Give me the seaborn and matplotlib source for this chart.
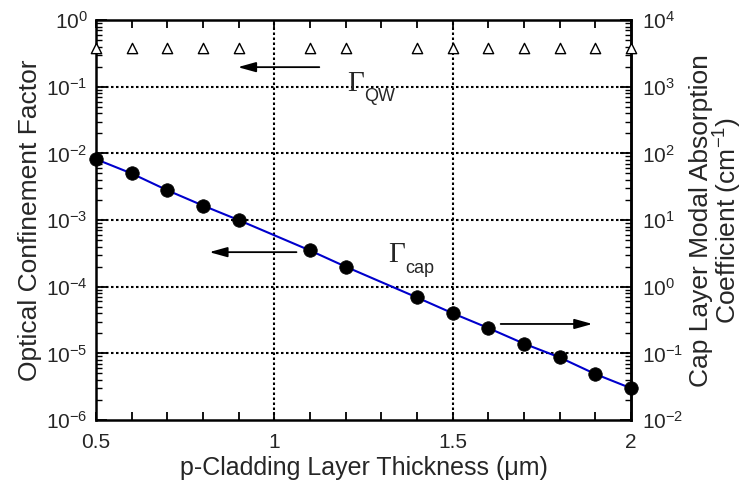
import numpy as np
import pandas as pd
import matplotlib
matplotlib.use("Agg")
import matplotlib.pyplot as plt
import matplotlib.ticker as mticker
import seaborn as sns

thickness = [0.5, 0.6, 0.7, 0.8, 0.9, 1.1, 1.2, 1.4, 1.5, 1.6, 1.7, 1.8, 1.9, 2.0]
gamma_qw = [0.38, 0.38, 0.38, 0.38, 0.38, 0.38, 0.38, 0.38, 0.38, 0.38, 0.38, 0.38, 0.38, 0.38]
gamma_cap = [8.2e-3, 5.0e-3, 2.8e-3, 1.65e-3, 1.0e-3, 3.5e-4, 2.0e-4,
             6.9e-5, 4.0e-5, 2.4e-5, 1.4e-5, 8.7e-6, 4.9e-6, 3.0e-6]
x_ticks = [0.5, 1, 1.5, 2]
x_ticklabels = ["0.5", "1", "1.5", "2"]
left_decades = [-6, -5, -4, -3, -2, -1, 0]
right_decades = [-2, -1, 0, 1, 2, 3, 4]
right_scale = 1e4  # absorption coefficient (cm^-1) per unit confinement factor

df = pd.DataFrame({"t": thickness, "qw": gamma_qw, "cap": gamma_cap})

sns.set_theme(style="ticks")
plt.rcParams["font.family"] = ["Liberation Sans", "DejaVu Sans"]
plt.rcParams["mathtext.default"] = "regular"
plt.rcParams["axes.axisbelow"] = False


def decade_minors(decs):
    return [m * 10.0 ** d for d in decs[:-1] for m in range(2, 10)]


fig = plt.figure(figsize=(7.44, 4.91), dpi=100)
ax = fig.add_axes([0.129, 0.1446, 0.719, 0.8144])

sns.lineplot(data=df, x="t", y="cap", ax=ax, color="#0000cc", lw=1.5, zorder=3)
sns.scatterplot(data=df, x="t", y="cap", ax=ax, color="black", s=95, edgecolor="black",
                linewidth=0.5, zorder=4, clip_on=False)
sns.scatterplot(data=df, x="t", y="qw", ax=ax, marker="^", s=55, facecolor="white",
                edgecolor="black", linewidth=1.0, zorder=4, clip_on=False)

ax.set_yscale("log")
ax.set_xlim(0.5, 2.0)
ax.set_ylim(1e-6, 1e0)

# grid
for e in left_decades[1:-1]:
    ax.axhline(10.0 ** e, color="black", ls=(0, (1.2, 1.2)), lw=1.5, zorder=1)
for xv in [1.0, 1.5]:
    ax.axvline(xv, color="black", ls=(0, (1.2, 1.2)), lw=1.5, zorder=1)

ax.set_xticks(x_ticks)
ax.set_xticklabels(x_ticklabels)
ax.xaxis.set_minor_locator(mticker.FixedLocator([0.6, 0.7, 0.8, 0.9, 1.1, 1.2, 1.3, 1.4,
                                                 1.6, 1.7, 1.8, 1.9]))
ax.yaxis.set_major_locator(mticker.FixedLocator([10.0 ** d for d in left_decades]))
ax.yaxis.set_minor_locator(mticker.FixedLocator(decade_minors(left_decades)))
ax.yaxis.set_minor_formatter(mticker.NullFormatter())
ax.yaxis.set_major_formatter(mticker.FuncFormatter(lambda v, p: "$10^{%d}$" % round(np.log10(v))))

ax.tick_params(axis="x", which="both", direction="in", top=True, bottom=True, length=6, width=1.3,
               labelsize=15, pad=9, color="black")
ax.tick_params(axis="y", which="major", direction="in", left=True, right=False, length=8, width=1.3,
               labelsize=15, pad=6, color="black")
ax.tick_params(axis="y", which="minor", direction="in", left=True, right=False, length=4, width=1.0,
               color="black")

for sp in ax.spines.values():
    sp.set_linewidth(1.8)
    sp.set_color("black")

ax.set_xlabel("p-Cladding Layer Thickness (\u03bcm)", fontsize=18, labelpad=3)
ax.set_ylabel("Optical Confinement Factor", fontsize=19, labelpad=3)

ax2 = ax.secondary_yaxis("right", functions=(lambda y: y * right_scale, lambda y: y / right_scale))
ax2.yaxis.set_major_locator(mticker.FixedLocator([10.0 ** d for d in right_decades]))
ax2.yaxis.set_minor_locator(mticker.FixedLocator(decade_minors(right_decades)))
ax2.yaxis.set_minor_formatter(mticker.NullFormatter())
ax2.yaxis.set_major_formatter(mticker.FuncFormatter(lambda v, p: "$10^{%d}$" % round(np.log10(v))))
ax2.tick_params(axis="y", which="major", direction="in", length=8, width=1.3, labelsize=15, pad=8,
                color="black")
ax2.tick_params(axis="y", which="minor", direction="in", length=4, width=1.0, color="black")
for sp in ax2.spines.values():
    sp.set_linewidth(1.8)
    sp.set_color("black")
ax2.set_ylabel("Cap Layer Modal Absorption\nCoefficient (cm$^{-1}$)", fontsize=19, labelpad=4,
               linespacing=0.95)

# arrows and labels
arr = dict(arrowstyle="-|>,head_length=0.9,head_width=0.25", color="black", lw=1.3)
ax.annotate("", xy=(0.89, 0.197), xytext=(1.134, 0.197), arrowprops=arr)
ax.annotate("", xy=(0.81, 3.3e-4), xytext=(1.07, 3.3e-4), arrowprops=arr)
ax.annotate("", xy=(1.90, 2.76e-5), xytext=(1.627, 2.76e-5), arrowprops=arr)

ax.text(1.204, 0.11, "\u0393", fontsize=21, family=["Liberation Serif"], va="center", ha="left")
ax.text(1.252, 0.072, "QW", fontsize=13, va="center", ha="left")
ax.text(1.318, 3.0e-4, "\u0393", fontsize=21, family=["Liberation Serif"], va="center", ha="left")
ax.text(1.368, 1.9e-4, "cap", fontsize=13, va="center", ha="left")

fig.savefig("out.png", dpi=100)
